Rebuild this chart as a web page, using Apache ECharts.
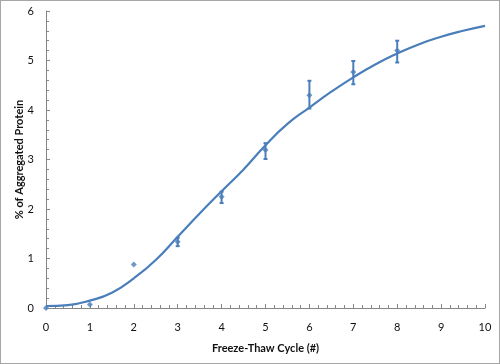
<!DOCTYPE html>
<html><head><meta charset="utf-8">
<script src="https://cdn.jsdelivr.net/npm/echarts@6/dist/echarts.min.js"></script>
<style>html,body{margin:0;padding:0;background:#fff}#c{width:500px;height:364px;box-sizing:border-box;border:1px solid #a6a6a6}</style>
</head><body><div id="c"></div>
<script>
var cycles = [0, 1, 2, 3, 4, 5, 6, 7, 8];
var aggMean = [0.0, 0.07, 0.88, 1.34, 2.25, 3.19, 4.30, 4.77, 5.20];
var errLow = [0.0, 0.07, 0.88, 1.25, 2.12, 3.01, 4.03, 4.52, 4.96];
var errHigh = [0.0, 0.07, 0.88, 1.42, 2.35, 3.33, 4.59, 4.99, 5.40];
var fitX = [0, 0.5, 1, 1.5, 2, 2.5, 3, 3.5, 4, 4.5, 5, 5.5, 6, 6.5, 7, 7.5, 8, 8.5, 9, 9.5, 10];
var fitY = [0.04, 0.06, 0.15, 0.31, 0.60, 0.97, 1.44, 1.91, 2.36, 2.80, 3.29, 3.72, 4.05, 4.37, 4.66, 4.92, 5.14, 5.33, 5.48, 5.60, 5.70];
var xTicks = ['0','1','2','3','4','5','6','7','8','9','10'];
var yTicks = ['0','1','2','3','4','5','6'];

var blue = '#4a7ebb';
var chart = echarts.init(document.getElementById('c'), null, {renderer: 'canvas'});
var pts = cycles.map(function (c, i) { return [c, aggMean[i]]; });
var errs = cycles.map(function (c, i) { return [c, errLow[i], errHigh[i]]; }).filter(function (d) { return d[2] > d[1]; });
var fit = fitX.map(function (x, i) { return [x, fitY[i]]; });
var font = 'Lato, Open Sans, sans-serif';

chart.setOption({
  animation: false,
  grid: {left: 45, right: 14, top: 10, bottom: 55, containLabel: false, outerBoundsMode: 'none'},
  xAxis: {
    type: 'value', min: 0, max: 10, interval: 1,
    name: 'Freeze-Thaw Cycle (#)', nameLocation: 'middle', nameGap: 35, nameMoveOverlap: false,
    nameTextStyle: {fontFamily: font, fontWeight: 'bold', fontSize: 11, color: '#111'},
    axisLine: {lineStyle: {color: '#868686'}},
    axisTick: {inside: true, length: 4, lineStyle: {color: '#868686'}},
    minorTick: {show: true, splitNumber: 5, length: 3, lineStyle: {color: '#868686'}},
    splitLine: {show: false},
    axisLabel: {margin: 14, fontFamily: font, fontSize: 11, color: '#111', formatter: function (v) { return xTicks[Math.round(v)]; }}
  },
  yAxis: {
    type: 'value', min: 0, max: 6, interval: 1,
    name: '% of Aggregated Protein', nameLocation: 'middle', nameGap: 21, nameMoveOverlap: false,
    nameTextStyle: {fontFamily: font, fontWeight: 'bold', fontSize: 11, color: '#111'},
    axisLine: {show: true, lineStyle: {color: '#868686'}},
    axisTick: {show: true, inside: true, length: 4, lineStyle: {color: '#868686'}},
    minorTick: {show: true, splitNumber: 5, length: 3, lineStyle: {color: '#868686'}},
    splitLine: {show: false},
    axisLabel: {margin: 12, fontFamily: font, fontSize: 11, color: '#111', formatter: function (v) { return yTicks[Math.round(v)]; }}
  },
  series: [
    {type: 'line', data: fit, smooth: true, showSymbol: false, lineStyle: {color: blue, width: 2.2}, z: 2},
    {type: 'custom', data: errs, z: 3,
      renderItem: function (params, api) {
        var lo = api.coord([api.value(0), api.value(1)]);
        var hi = api.coord([api.value(0), api.value(2)]);
        var w = 2;
        var st = {stroke: blue, lineWidth: 2};
        return {type: 'group', children: [
          {type: 'line', shape: {x1: lo[0], y1: lo[1], x2: hi[0], y2: hi[1]}, style: st},
          {type: 'line', shape: {x1: lo[0] - w, y1: lo[1], x2: lo[0] + w, y2: lo[1]}, style: st},
          {type: 'line', shape: {x1: hi[0] - w, y1: hi[1], x2: hi[0] + w, y2: hi[1]}, style: st}
        ]};
      }
    },
    {type: 'scatter', data: pts, symbol: 'diamond', symbolSize: 6, itemStyle: {color: blue}, z: 4}
  ]
});
</script></body></html>
